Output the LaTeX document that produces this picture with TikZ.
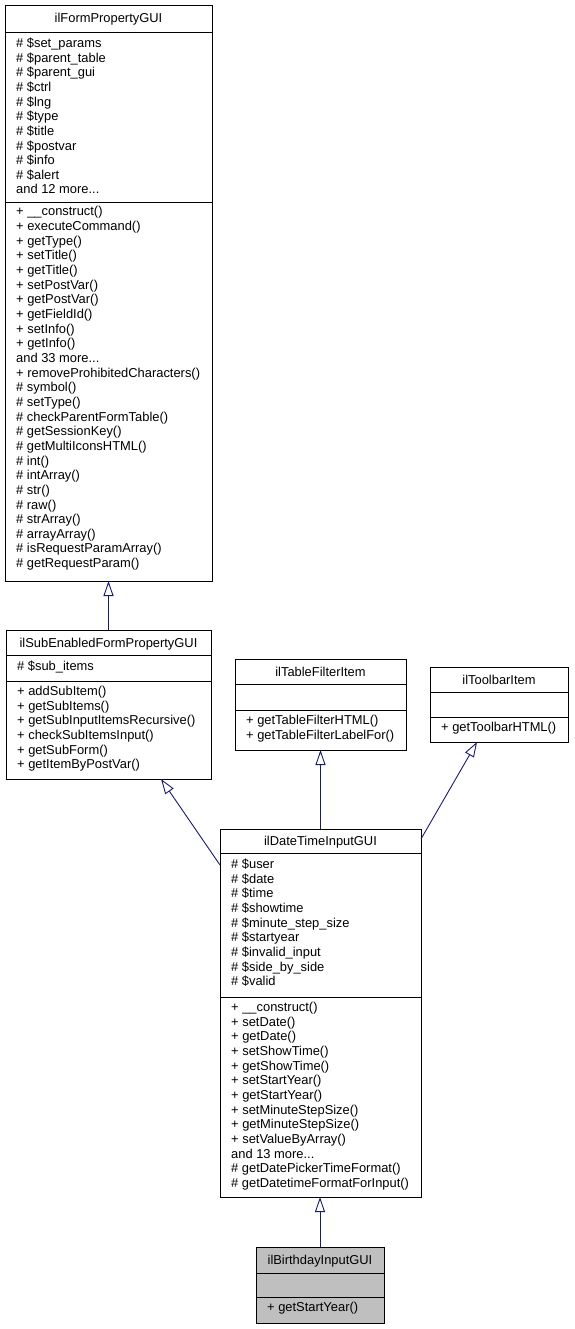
\documentclass[tikz,border=0pt]{standalone}
\usepackage{fontspec}
\setmainfont{Liberation Sans}
\usetikzlibrary{arrows.meta}
\definecolor{edgeblue}{HTML}{191970}
\definecolor{boxgray}{HTML}{BFBFBF}
\tikzset{
  classbox/.style={draw=black, line width=0.9pt, inner sep=0pt, outer sep=0pt, anchor=north west, fill=white},
  txt/.style={anchor=base west, inner sep=0pt, font=\fontsize{12.9}{14.7}\selectfont},
  ttl/.style={anchor=base, inner sep=0pt, font=\fontsize{12.9}{14.7}\selectfont},
  sepline/.style={draw=black, line width=0.9pt},
  inherit/.style={draw=edgeblue, line width=0.9pt, -{Triangle[open, length=15pt, width=10pt, fill=white]}},
}
\newcommand{\mydots}{...}
\newcommand{\classlines}[3]{%
  \foreach \t [count=\i from 0] in {#3} {\node[txt] at (#1, {#2+\i*14.65}) {\t};}}
\begin{document}
\begin{tikzpicture}[x=1pt, y=-1pt]
\useasboundingbox (0,0) rectangle (574,1329);
% ilFormPropertyGUI
\node[classbox, minimum width=207pt, minimum height=576pt] (fpg) at (5,5) {};
\draw[sepline] (5,32) -- (212,32);
\draw[sepline] (5,202) -- (212,202);
\node[ttl] (fpgt) at (108.5,23) {ilFormPropertyGUI};
\classlines{16}{47.5}{\# \$set\_params,\# \$parent\_table,\# \$parent\_gui,\# \$ctrl,\# \$lng,\# \$type,\# \$title,\# \$postvar,\# \$info,\# \$alert,and 12 more\mydots}
\classlines{16}{216}{+ \_\_construct(),+ executeCommand(),+ getType(),+ setTitle(),+ getTitle(),+ setPostVar(),+ getPostVar(),+ getFieldId(),+ setInfo(),+ getInfo(),and 33 more\mydots,+ removeProhibitedCharacters(),\# symbol(),\# setType(),\# checkParentFormTable(),\# getSessionKey(),\# getMultiIconsHTML(),\# int(),\# intArray(),\# str(),\# raw(),\# strArray(),\# arrayArray(),\# isRequestParamArray(),\# getRequestParam()}
% ilSubEnabledFormPropertyGUI
\node[classbox, minimum width=205pt, minimum height=149pt] (sub) at (6,630) {};
\draw[sepline] (6,655) -- (211,655);
\draw[sepline] (6,681) -- (211,681);
\node[ttl] (subt) at (108.5,647) {ilSubEnabledFormPropertyGUI};
\classlines{17}{670.5}{\# \$sub\_items}
\classlines{17}{695.5}{+ addSubItem(),+ getSubItems(),+ getSubInputItemsRecursive(),+ checkSubItemsInput(),+ getSubForm(),+ getItemByPostVar()}
% ilTableFilterItem
\node[classbox, minimum width=171pt, minimum height=91pt] (tfi) at (235,659) {};
\draw[sepline] (235,684) -- (406,684);
\draw[sepline] (235,710) -- (406,710);
\node[ttl] (tfit) at (320.5,676) {ilTableFilterItem};
\classlines{246}{724.5}{+ getTableFilterHTML(),+ getTableFilterLabelFor()}
% ilToolbarItem
\node[classbox, minimum width=138pt, minimum height=75pt] (tbi) at (430,667) {};
\draw[sepline] (430,692) -- (568,692);
\draw[sepline] (430,717) -- (568,717);
\node[ttl] (tbit) at (499,684) {ilToolbarItem};
\classlines{441}{731.5}{+ getToolbarHTML()}
% ilDateTimeInputGUI
\node[classbox, minimum width=201pt, minimum height=368pt] (dti) at (220,829) {};
\draw[sepline] (220,853) -- (421,853);
\draw[sepline] (220,997) -- (421,997);
\node[ttl] (dtit) at (320.5,845.5) {ilDateTimeInputGUI};
\classlines{231}{868.5}{\# \$user,\# \$date,\# \$time,\# \$showtime,\# \$minute\_step\_size,\# \$startyear,\# \$invalid\_input,\# \$side\_by\_side,\# \$valid}
\classlines{231}{1011.5}{+ \_\_construct(),+ setDate(),+ getDate(),+ setShowTime(),+ getShowTime(),+ setStartYear(),+ getStartYear(),+ setMinuteStepSize(),+ getMinuteStepSize(),+ setValueByArray(),and 13 more\mydots,\# getDatePickerTimeFormat(),\# getDatetimeFormatForInput()}
% ilBirthdayInputGUI
\node[classbox, fill=boxgray, minimum width=128pt, minimum height=76pt] (bdi) at (256,1247) {};
\draw[sepline] (256,1273) -- (384,1273);
\draw[sepline] (256,1297) -- (384,1297);
\node[ttl] (bdit) at (320,1264.5) {ilBirthdayInputGUI};
\classlines{267}{1311.5}{+ getStartYear()}
% connector end points
\coordinate (subTip) at (161,779);
\coordinate (dtiL) at (220,865);
\coordinate (tbiTip) at (477,742);
\coordinate (dtiR) at (421,839);
% inheritance edges
\draw[inherit] (sub.north) -- (fpg.south);
\draw[inherit] (dtiL) -- (subTip);
\draw[inherit] (dti.north -| tfi.south) -- (tfi.south);
\draw[inherit] (dtiR) -- (tbiTip);
\draw[inherit] (bdi.north) -- (bdi.north |- dti.south);
\end{tikzpicture}
\end{document}
